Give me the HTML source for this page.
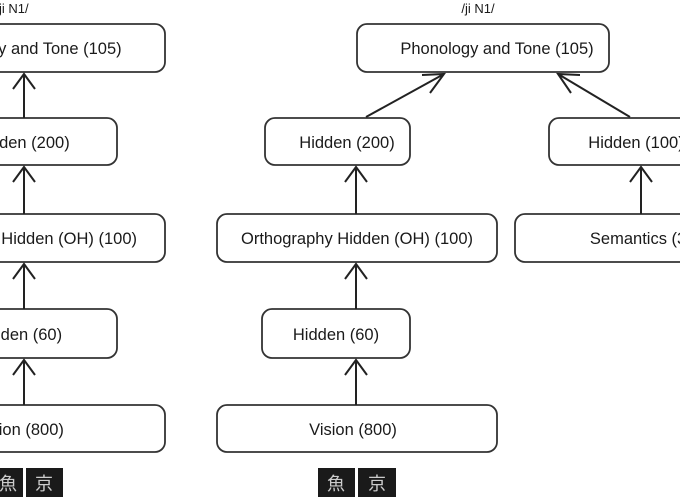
<!DOCTYPE html>
<html><head><meta charset="utf-8"><style>
html,body{margin:0;padding:0;background:#fff;width:680px;height:500px;overflow:hidden}
svg text{font-family:"Liberation Sans","Noto Sans CJK JP",sans-serif;font-size:16.5px;fill:#1a1a1a}
</style></head><body>
<svg width="680" height="500" xmlns="http://www.w3.org/2000/svg">
<g fill="#fff" stroke="#333" stroke-width="1.8">
<rect x="-87" y="24" width="252" height="48" rx="10"/>
<rect x="-28" y="118" width="145" height="47" rx="10"/>
<rect x="-115" y="214" width="280" height="48" rx="10"/>
<rect x="-31" y="309" width="148" height="49" rx="10"/>
<rect x="-115" y="405" width="280" height="47" rx="10"/>
<rect x="357" y="24" width="252" height="48" rx="10"/>
<rect x="265" y="118" width="145" height="47" rx="10"/>
<rect x="217" y="214" width="280" height="48" rx="10"/>
<rect x="262" y="309" width="148" height="49" rx="10"/>
<rect x="217" y="405" width="280" height="47" rx="10"/>
<rect x="549" y="118" width="160" height="47" rx="10"/>
<rect x="515" y="214" width="200" height="48" rx="10"/>
</g>
<g stroke="#222" stroke-width="2" fill="none">
<path d="M24 118V74M13 89L24 74L35 89"/>
<path d="M24 214V167M13 182L24 167L35 182"/>
<path d="M24 309V264M13 279L24 264L35 279"/>
<path d="M24 405V360M13 375L24 360L35 375"/>
<path d="M356 214V167M345 182L356 167L367 182"/>
<path d="M356 309V264M345 279L356 264L367 279"/>
<path d="M356 405V360M345 375L356 360L367 375"/>
<path d="M641 214V167M630 182L641 167L652 182"/>
<path d="M366 117L444 74M422 75L444 74L430 93"/>
<path d="M630 117L558 74M580 75L558 74L571 93"/>
</g>
<g text-anchor="middle">
<text x="25" y="54">Phonology and Tone (105)</text>
<text x="22" y="148">Hidden (200)</text>
<text x="21" y="244">Orthography Hidden (OH) (100)</text>
<text x="19" y="340">Hidden (60)</text>
<text x="20" y="435">Vision (800)</text>
<text x="497" y="54">Phonology and Tone (105)</text>
<text x="347" y="148">Hidden (200)</text>
<text x="357" y="244">Orthography Hidden (OH) (100)</text>
<text x="336" y="340">Hidden (60)</text>
<text x="353" y="435">Vision (800)</text>
<text x="636" y="148">Hidden (100)</text>
<text x="650" y="244">Semantics (300)</text>
<text x="478" y="13" style="font-size:13px">/ji N1/</text>
<text x="12" y="13" style="font-size:13px">/ji N1/</text>
</g>
<g fill="#1a1a1a">
<rect x="-5" y="468" width="28" height="29"/><rect x="26" y="468" width="37" height="29"/>
<rect x="318" y="468" width="37" height="29"/><rect x="358" y="468" width="38" height="29"/>
</g>
<g text-anchor="middle">
<text x="8" y="490" style="fill:#ccc;font-size:18px">魚</text>
<text x="44" y="490" style="fill:#ccc;font-size:18px">京</text>
<text x="336" y="490" style="fill:#ccc;font-size:18px">魚</text>
<text x="377" y="490" style="fill:#ccc;font-size:18px">京</text>
</g>
</svg>
</body></html>
